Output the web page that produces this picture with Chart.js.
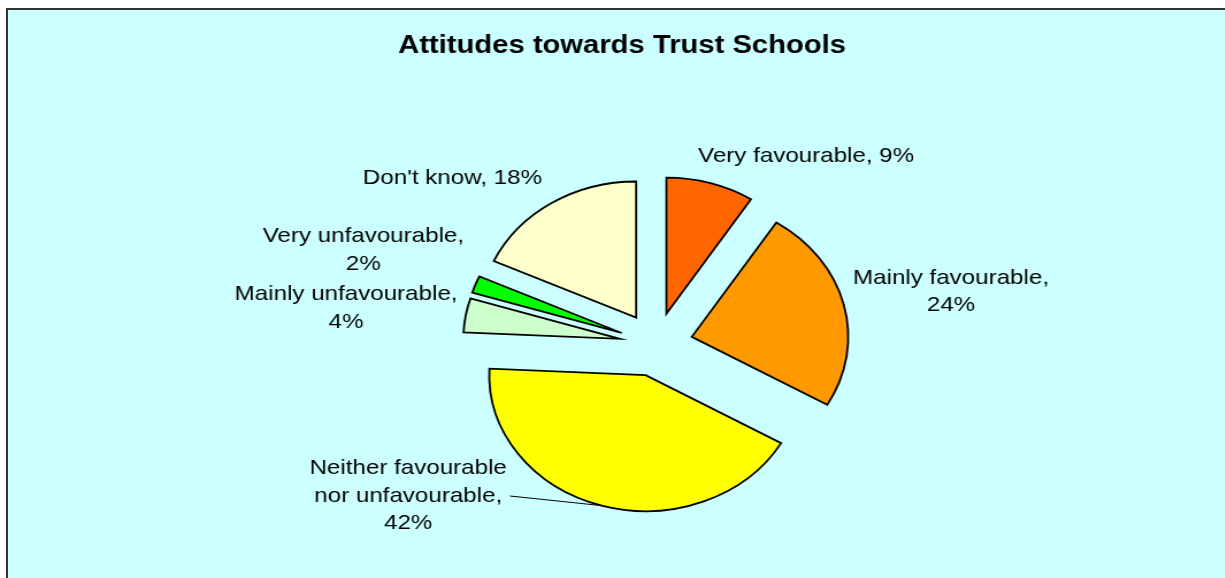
<!DOCTYPE html>
<html>
<head>
<meta charset="utf-8">
<title>Attitudes towards Trust Schools</title>
<script src="https://cdn.jsdelivr.net/npm/chart.js@4/dist/chart.umd.min.js"></script>
<style>
  html, body { margin: 0; padding: 0; background: #fff; overflow: hidden; width: 1225px; height: 578px; }
  #frame {
    position: absolute; left: 6px; top: 8px;
    width: 1219px; height: 568px;
    border-left: 2px solid #333; border-top: 2px solid #333;
    background: #ccffff;
  }
  #myChart { display: block; }
</style>
</head>
<body>
<div id="frame">
  <!-- chart is drawn narrower and stretched out sideways -->
  <canvas id="myChart" width="1060" height="568" style="width:1219px;height:568px"></canvas>
</div>
<script>
const title = 'Attitudes towards Trust Schools'

const categories = [
    'Very favourable',
    'Mainly favourable',
    'Neither favourable nor unfavourable',
    'Mainly unfavourable',
    'Very unfavourable',
    "Don't know",
]
const values = [9, 24, 42, 4, 2, 18]
const colors = ['#ff6600', '#ff9900', '#ffff00', '#ccffcc', '#00ff00', '#ffffcc']

// how each label is broken into lines
const labelLines = [
    ['Very favourable'],
    ['Mainly favourable'],
    ['Neither favourable', 'nor unfavourable'],
    ['Mainly unfavourable'],
    ['Very unfavourable'],
    ["Don't know"],
]
const valueInline = [true, false, false, false, false, true]

// label anchors (centre x, first baseline) and leader line starts
const labelPos = [[694, 152], [820, 273.5], [348, 464], [294, 290], [309, 232], [386.5, 174]]
const leaderStart = [null, null, [436.5, 486], null, null, null]
const titlePos = [534, 42.5]
const lineGap = 27.5

// how far every slice is pulled out of the pie
const explode = 32

const font = '"Liberation Sans", Arial, sans-serif'

function labelText(i) {
    const lines = labelLines[i].slice()
    const last = lines.length - 1
    if (valueInline[i]) {
        lines[last] = lines[last] + ', ' + values[i] + '%'
    } else {
        lines[last] = lines[last] + ','
        lines.push(values[i] + '%')
    }
    return lines
}

// the built in offset also trims the slice angles, so push each
// slice's centre out along its middle angle instead
const explodeSlices = {
    id: 'explodeSlices',
    beforeDatasetsDraw(chart) {
        const area = chart.chartArea
        const cx = (area.left + area.right) / 2
        const cy = (area.top + area.bottom) / 2
        chart.getDatasetMeta(0).data.forEach((arc) => {
            const mid = (arc.startAngle + arc.endAngle) / 2
            arc.x = cx + Math.cos(mid) * explode
            arc.y = cy + Math.sin(mid) * explode
        })
    },
}

const pieLabels = {
    id: 'pieLabels',
    afterDatasetsDraw(chart) {
        const ctx = chart.ctx
        const meta = chart.getDatasetMeta(0)
        ctx.save()
        ctx.fillStyle = '#000'
        ctx.strokeStyle = '#000'
        ctx.textAlign = 'center'
        ctx.textBaseline = 'alphabetic'

        ctx.font = 'bold 25.4px ' + font
        ctx.fillText(title, titlePos[0], titlePos[1])

        ctx.font = '21px ' + font
        meta.data.forEach((arc, i) => {
            labelText(i).forEach((line, j) => {
                ctx.fillText(line, labelPos[i][0], labelPos[i][1] + j * lineGap)
            })
            if (leaderStart[i]) {
                // leader goes to the middle of the slice's outer edge
                const mid = (arc.startAngle + arc.endAngle) / 2
                ctx.beginPath()
                ctx.moveTo(leaderStart[i][0], leaderStart[i][1])
                ctx.lineTo(arc.x + Math.cos(mid) * arc.outerRadius, arc.y + Math.sin(mid) * arc.outerRadius)
                ctx.lineWidth = 1
                ctx.stroke()
            }
        })
        ctx.restore()
    },
}

const data = {
    labels: categories,
    datasets: [
        {
            data: values,
            backgroundColor: colors,
            borderColor: '#000',
            borderWidth: 1.8,
            borderJoinStyle: 'miter',
        },
    ],
}

const config = {
    type: 'pie',
    data: data,
    options: {
        responsive: false,
        maintainAspectRatio: false,
        animation: false,
        events: [],
        radius: 136,
        layout: {
            padding: { left: 77, right: 10, top: 110.8, bottom: 10 },
        },
        plugins: {
            legend: { display: false },
            tooltip: { enabled: false },
            title: { display: false },
        },
    },
    plugins: [explodeSlices, pieLabels],
}

const myChart = new Chart(document.getElementById('myChart'), config)
</script>
</body>
</html>
